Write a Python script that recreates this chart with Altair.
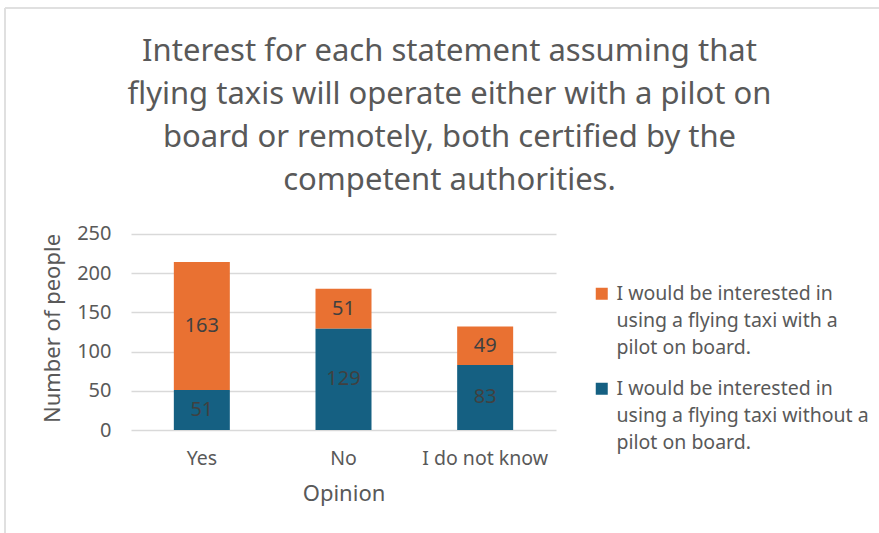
import altair as alt
import pandas as pd

opinions = ["Yes", "No", "I do not know"]
series = [
    "I would be interested in using a flying taxi with a pilot on board.",
    "I would be interested in using a flying taxi without a pilot on board.",
]
with_pilot = [163, 51, 49]
without_pilot = [51, 129, 83]
colors = ["#E97132", "#156082"]
stack_order = [1, 0]
y_ticks = [0, 50, 100, 150, 200, 250]

rows = []
for i, op in enumerate(opinions):
    rows.append({"opinion": op, "series": series[0], "value": with_pilot[i], "ord": stack_order[0]})
    rows.append({"opinion": op, "series": series[1], "value": without_pilot[i], "ord": stack_order[1]})
df = pd.DataFrame(rows)

txt = "#595959"
font = "Noto Sans"

label_expr = (
    "datum.label == '" + series[0] + "' ? ['I would be interested in', 'using a flying taxi with a', 'pilot on board.']"
    " : ['I would be interested in', 'using a flying taxi without a', 'pilot on board.']"
)

base = alt.Chart(df)

bars = base.mark_bar(size=56).encode(
    x=alt.X("opinion:N", sort=opinions, title="Opinion",
            axis=alt.Axis(labelAngle=0, labelFontSize=19.5, titleFontSize=22, labelPadding=19,
                          titlePadding=16, domain=False, ticks=False, labelColor=txt, titleColor=txt,
                          titleFontWeight="normal", labelFont=font, titleFont=font)),
    y=alt.Y("value:Q", stack="zero", title="Number of people",
            scale=alt.Scale(domain=[0, 250]),
            axis=alt.Axis(values=y_ticks, labelFontSize=20, titleFontSize=22,
                          domain=False, ticks=False, labelPadding=20, titlePadding=12,
                          gridColor="#D9D9D9", gridWidth=1.5, labelColor=txt, titleColor=txt,
                          titleFontWeight="normal", labelFont=font, titleFont=font)),
    color=alt.Color("series:N", scale=alt.Scale(domain=series, range=colors), title=None,
                    legend=alt.Legend(orient="none", legendX=461, legendY=58, labelExpr=label_expr,
                                      labelFontSize=19.5, labelColor=txt, labelFont=font,
                                      symbolType="square", symbolSize=144, symbolStrokeWidth=0,
                                      rowPadding=20, labelLimit=400, labelOffset=5)),
    order=alt.Order("ord:Q"),
)

labels = base.transform_stack(
    stack="value", groupby=["opinion"], sort=[alt.SortField("ord", order="ascending")], as_=["y0", "y1"]
).transform_calculate(mid="(datum.y0 + datum.y1) / 2").mark_text(
    fontSize=20, color="#404040", font=font
).encode(
    x=alt.X("opinion:N", sort=opinions),
    y=alt.Y("mid:Q"),
    text=alt.Text("value:Q"),
)

frame_df = pd.DataFrame({"k": [0]})
frame_top = alt.Chart(frame_df).mark_rule(color="#E0E0E0", strokeWidth=2).encode(
    x=alt.value(-126), x2=alt.value(760), y=alt.value(-218), y2=alt.value(-218)
)
frame_left = alt.Chart(frame_df).mark_rule(color="#E0E0E0", strokeWidth=2).encode(
    x=alt.value(-126), x2=alt.value(-126), y=alt.value(-218), y2=alt.value(320)
)

chart = alt.layer(frame_top, frame_left, bars, labels).properties(
    width=425, height=204,
    title=alt.Title(
        ["Interest for each statement assuming that", "flying taxis will operate either with a pilot on",
         "board or remotely, both certified by the", "competent authorities."],
        fontSize=31, font=font, color=txt, fontWeight="normal", frame="group",
        lineHeight=43, anchor="middle", dx=106, offset=-190,
    ),
    autosize=alt.AutoSizeParams(type="none"),
    padding={"left": 131, "top": 226, "right": 323, "bottom": 103},
).configure(
    style={"guide-label": {"lineHeight": 27}}
).configure_view(stroke=None).configure_scale(bandPaddingInner=0.6)

chart.save("out.html", embed_options={"renderer": "svg", "actions": False})
